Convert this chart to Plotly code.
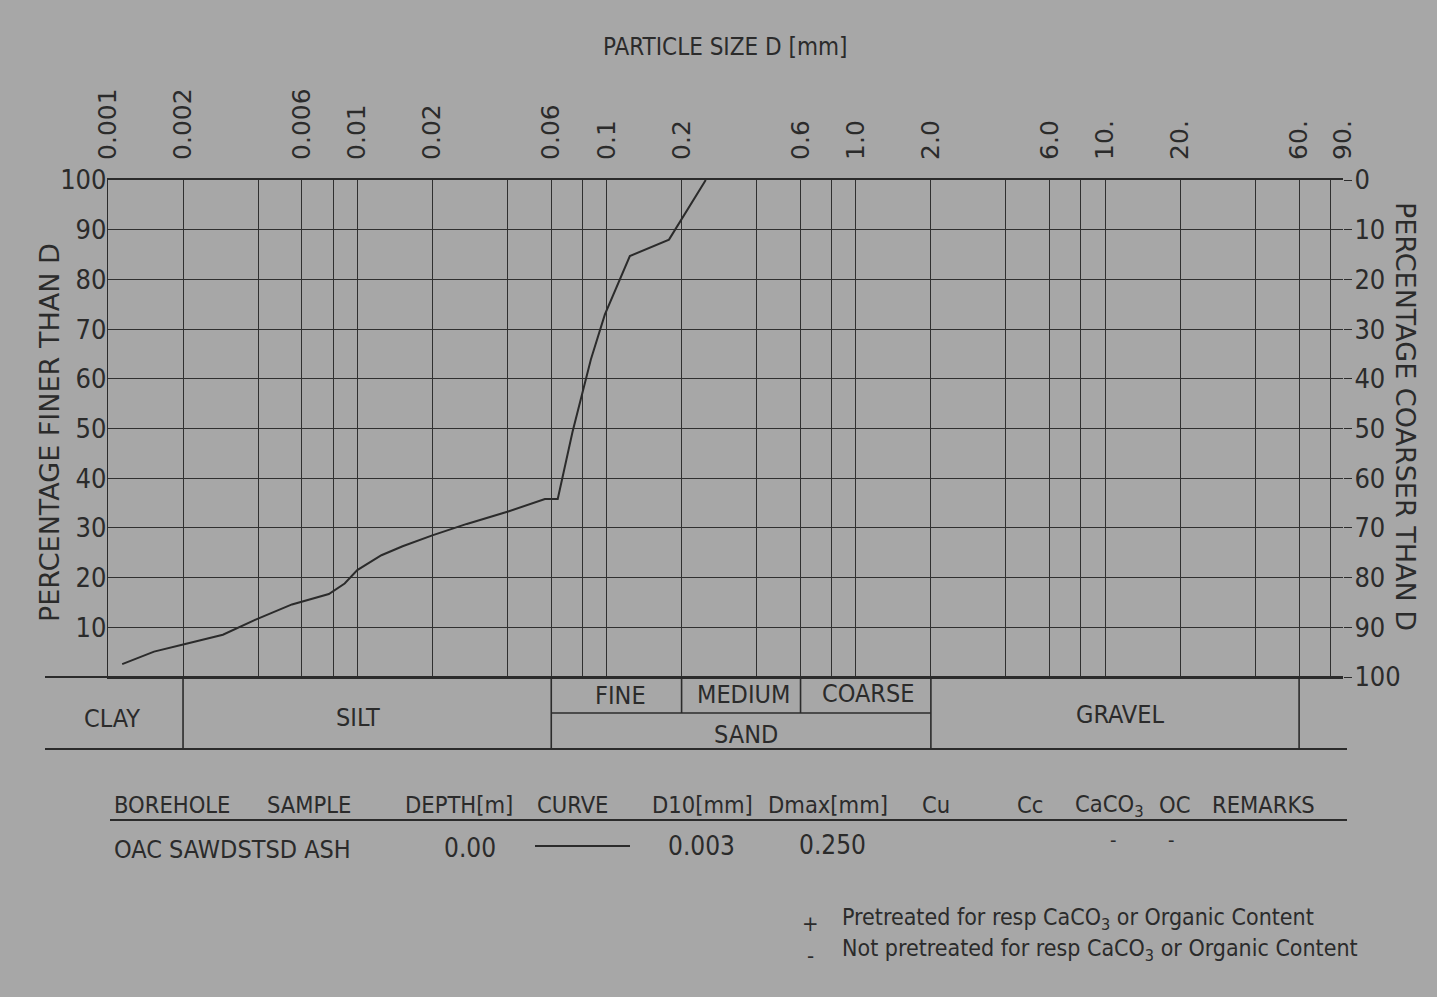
import numpy as np
import plotly.graph_objects as go

# ---------------- data ----------------
size_mm = [0.00114, 0.00153, 0.00206, 0.00289, 0.00389, 0.00547, 0.00769, 0.0089,
           0.0100, 0.0125, 0.0152, 0.0200, 0.0275, 0.0403, 0.0566, 0.0637, 0.0730,
           0.0865, 0.0984, 0.124, 0.178, 0.202, 0.250]
pct_finer = [2.6, 5.1, 6.7, 8.5, 11.5, 14.6, 16.7, 18.8, 21.5, 24.5, 26.3, 28.5,
             30.8, 33.3, 35.8, 35.8, 49.3, 63.9, 72.9, 84.7, 88.0, 92.4, 100.0]

x_tick_vals = [0.001, 0.002, 0.006, 0.01, 0.02, 0.06, 0.1, 0.2, 0.6, 1.0, 2.0, 6.0, 10, 20, 60, 90]
x_tick_text = ["0.001", "0.002", "0.006", "0.01", "0.02", "0.06", "0.1", "0.2", "0.6", "1.0",
               "2.0", "6.0", "10.", "20.", "60.", "90."]
x_grid_vals = [0.001, 0.002, 0.004, 0.006, 0.008, 0.01, 0.02, 0.04, 0.06, 0.08, 0.1, 0.2, 0.4,
               0.6, 0.8, 1, 2, 4, 6, 8, 10, 20, 40, 60, 80]
y_left_ticks = [10, 20, 30, 40, 50, 60, 70, 80, 90, 100]
y_right_ticks = [0, 10, 20, 30, 40, 50, 60, 70, 80, 90, 100]

# soil classes (boundaries in mm)
class_bounds_full = [0.002, 0.06, 2.0, 60]     # CLAY|SILT|SAND|GRAVEL
sand_sub_bounds = [0.2, 0.6]                   # FINE|MEDIUM|COARSE
sand_range = [0.06, 2.0]

header_cols = ["BOREHOLE", "SAMPLE", "DEPTH[m]", "CURVE", "D10[mm]", "Dmax[mm]", "Cu", "Cc",
               "CaCO<sub>3</sub>", "OC", "REMARKS"]
row_borehole = "OAC SAWDSTSD ASH"
row_depth = "0.00"
row_d10 = "0.003"
row_dmax = "0.250"
row_caco3 = "-"
row_oc = "-"

# ---------------- styling ----------------
W, H = 1437, 997
L_PX, R_PX, T_PX, B_PX = 108, 1343, 180, 677
BG = "#a7a7a7"
INK = "#2b2b2b"
GRID = "#303030"
NARROW = "DejaVu Sans Condensed, Liberation Sans Narrow, sans-serif"
WIDE = "DejaVu Sans, Verdana, sans-serif"


def px(x):
    return (x - L_PX) / (R_PX - L_PX)


def py(y):
    return (B_PX - y) / (B_PX - T_PX)


fig = go.Figure()
fig.add_trace(go.Scatter(x=size_mm, y=pct_finer, mode="lines",
                         line=dict(color=INK, width=2), showlegend=False, hoverinfo="x+y"))
# same curve expressed as percentage coarser on the right axis (invisible, keeps axis alive)
fig.add_trace(go.Scatter(x=size_mm, y=[100 - v for v in pct_finer], mode="lines", yaxis="y2",
                         line=dict(color="rgba(0,0,0,0)", width=0), showlegend=False,
                         hoverinfo="skip"))

fig.update_layout(
    width=W, height=H,
    margin=dict(l=L_PX, r=W - R_PX, t=T_PX, b=H - B_PX),
    paper_bgcolor=BG, plot_bgcolor=BG,
    font=dict(family=NARROW, color=INK),
    xaxis=dict(type="log", range=[np.log10(0.001), np.log10(90)], side="top",
               tickmode="array", tickvals=x_tick_vals, ticktext=x_tick_text,
               tickangle=-90, tickfont=dict(family=WIDE, size=25, color=INK),
               ticks="", ticklabelstandoff=13,
               showgrid=False, showline=True, linecolor=INK, linewidth=2.2, mirror=True,
               zeroline=False,
               minor=dict(tickmode="array", tickvals=x_grid_vals, showgrid=True,
                          gridcolor=GRID, gridwidth=1.2, ticks="")),
    yaxis=dict(range=[0, 100], tickmode="array", tickvals=y_left_ticks,
               tickfont=dict(family=NARROW, size=27, color=INK), ticks="",
               ticklabelstandoff=-5,
               showgrid=True, gridcolor=GRID, gridwidth=1.2, zeroline=False,
               showline=True, linecolor=INK, linewidth=1.2),
    yaxis2=dict(overlaying="y", side="right", range=[100, 0], tickmode="array",
                tickvals=y_right_ticks, tickfont=dict(family=NARROW, size=27, color=INK),
                ticks="outside", ticklen=8, tickwidth=1.3, tickcolor=INK,
                ticklabelstandoff=-3,
                showgrid=False, zeroline=False, showline=False),
)

shapes = []
lw = 1.6
# extend bottom axis line to the left (top of classification table)
shapes.append(dict(type="line", xref="paper", yref="paper", x0=px(45), x1=1, y0=0, y1=0,
                   line=dict(color=INK, width=2.2)))
# bottom line of classification table
shapes.append(dict(type="line", xref="paper", yref="paper", x0=px(45), x1=px(1347),
                   y0=py(749), y1=py(749), line=dict(color=INK, width=2)))
for b in class_bounds_full:
    shapes.append(dict(type="line", xref="x", yref="paper", x0=b, x1=b, y0=0, y1=py(749),
                       line=dict(color=INK, width=lw)))
for b in sand_sub_bounds:
    shapes.append(dict(type="line", xref="x", yref="paper", x0=b, x1=b, y0=0, y1=py(713),
                       line=dict(color=INK, width=lw)))
shapes.append(dict(type="line", xref="x", yref="paper", x0=sand_range[0], x1=sand_range[1],
                   y0=py(713), y1=py(713), line=dict(color=INK, width=lw)))
# table header rule
shapes.append(dict(type="line", xref="paper", yref="paper", x0=px(110), x1=px(1347),
                   y0=py(820), y1=py(820), line=dict(color=INK, width=2)))
# curve style sample
shapes.append(dict(type="line", xref="paper", yref="paper", x0=px(535), x1=px(630),
                   y0=py(846), y1=py(846), line=dict(color=INK, width=2)))
fig.update_layout(shapes=shapes)

annotations = []


def ann(text, x, y, size=25, family=NARROW, xanchor="center", textangle=0):
    annotations.append(dict(text=text, x=px(x), y=py(y), xref="paper", yref="paper",
                            showarrow=False, xanchor=xanchor, yanchor="middle",
                            textangle=textangle, font=dict(family=family, size=size, color=INK)))


ann("PARTICLE SIZE D [mm]", 725, 47, size=24)
ann("PERCENTAGE FINER THAN D", 49, 433, size=27, family=WIDE, textangle=-90)
ann("PERCENTAGE COARSER THAN D", 1406, 416, size=27, family=WIDE, textangle=90)

# classification labels
ann("CLAY", 112, 718, size=25)
ann("SILT", 358, 717, size=25)
ann("FINE", 620, 695, size=25)
ann("MEDIUM", 743, 694, size=25)
ann("COARSE", 868, 693, size=25)
ann("SAND", 746, 734, size=25)
ann("GRAVEL", 1120, 714, size=25)

# table header
header_x = [112, 265, 403, 535, 650, 766, 920, 1015, 1073, 1157, 1210]
for t, x in zip(header_cols, header_x):
    ann(t, x, 805, size=23.5, xanchor="left")
ann(row_borehole, 112, 849, size=25, xanchor="left")
ann(row_depth, 470, 848, size=26)
ann(row_d10, 701, 846, size=26)
ann(row_dmax, 832, 845, size=26)
ann(row_caco3, 1113, 840, size=20)
ann(row_oc, 1171, 840, size=20)

# footnotes
ann("+", 810, 923, size=22)
ann("Pretreated for resp CaCO<sub>3</sub> or Organic Content", 840, 919, size=23, xanchor="left")
ann("-", 810, 955, size=22)
ann("Not pretreated for resp CaCO<sub>3</sub> or Organic Content", 840, 950, size=23,
    xanchor="left")

fig.update_layout(annotations=annotations)

fig.write_html("out.html", include_plotlyjs=True, config={"displayModeBar": False},
               post_script="document.body.style.margin='0';document.body.style.overflow='hidden';")
